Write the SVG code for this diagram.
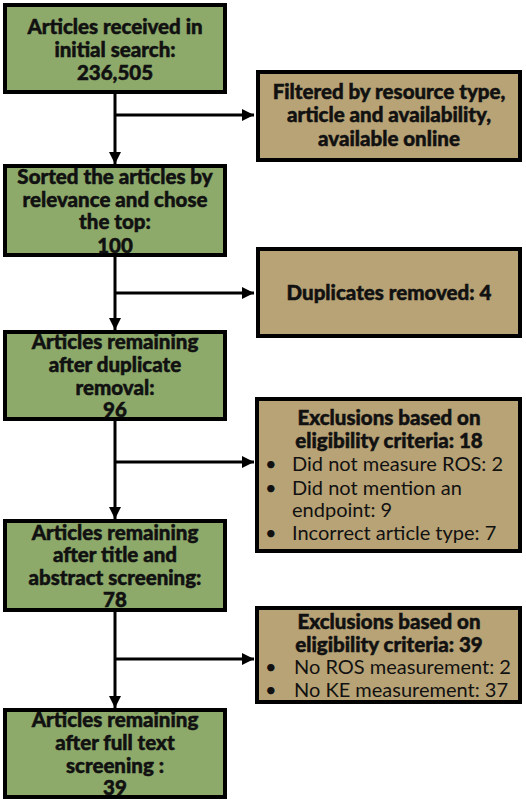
<svg xmlns="http://www.w3.org/2000/svg" width="526" height="805" viewBox="0 0 526 805">
<style>
.g{fill:#8DAA6B;stroke:#000;stroke-width:4}
.t{fill:#B8A376;stroke:#000;stroke-width:4}
.b{font-family:Lato,"Liberation Sans",sans-serif;font-weight:900;font-size:20.5px;fill:#111;stroke:#111;stroke-width:0.5;text-anchor:middle}
.r{font-family:Lato,"Liberation Sans",sans-serif;font-size:20px;fill:#111}
.c{fill:none;stroke:#000;stroke-width:3}
</style>
<defs>
<marker id="ah" viewBox="0 0 10 10" refX="10" refY="5" markerWidth="4" markerHeight="4" orient="auto" markerUnits="strokeWidth">
<path d="M0,0 L10,5 L0,10 z" fill="#000"/>
</marker>
</defs>
<g id="connectors">
<line class="c" x1="115" y1="94" x2="115" y2="164" marker-end="url(#ah)"/>
<line class="c" x1="115" y1="115" x2="254" y2="115" marker-end="url(#ah)"/>
<line class="c" x1="115" y1="257" x2="115" y2="330" marker-end="url(#ah)"/>
<line class="c" x1="115" y1="293" x2="254" y2="293" marker-end="url(#ah)"/>
<line class="c" x1="115" y1="421" x2="115" y2="519" marker-end="url(#ah)"/>
<line class="c" x1="115" y1="462" x2="254" y2="462" marker-end="url(#ah)"/>
<line class="c" x1="115" y1="612" x2="115" y2="708" marker-end="url(#ah)"/>
<line class="c" x1="115" y1="659" x2="254" y2="659" marker-end="url(#ah)"/>
</g>
<g id="n1">
<rect class="g" x="5" y="5" width="220" height="87"/>
<text class="b" x="115" y="34">Articles received in</text>
<text class="b" x="115" y="57">initial search:</text>
<text class="b" x="115" y="80">236,505</text>
</g>
<g id="n2">
<rect class="t" x="258" y="72" width="262" height="88"/>
<text class="b" x="389" y="99">Filtered by resource type,</text>
<text class="b" x="389" y="122">article and availability,</text>
<text class="b" x="389" y="146">available online</text>
</g>
<g id="n3">
<rect class="g" x="5" y="166" width="220" height="89"/>
<text class="b" x="115" y="184">Sorted the articles by</text>
<text class="b" x="115" y="207">relevance and chose</text>
<text class="b" x="115" y="229">the top:</text>
<text class="b" x="115" y="253">100</text>
</g>
<g id="n4">
<rect class="t" x="258" y="249" width="262" height="87"/>
<text class="b" x="389" y="300">Duplicates removed: 4</text>
</g>
<g id="n5">
<rect class="g" x="5" y="332" width="220" height="87"/>
<text class="b" x="115" y="349">Articles remaining</text>
<text class="b" x="115" y="372">after duplicate</text>
<text class="b" x="115" y="395">removal:</text>
<text class="b" x="115" y="417">96</text>
</g>
<g id="n6">
<rect class="t" x="257" y="399" width="263" height="152"/>
<text class="b" x="389" y="425">Exclusions based on</text>
<text class="b" x="389" y="448">eligibility criteria: 18</text>
<text class="r" x="265" y="471">•</text>
<text class="r" x="292" y="471">Did not measure ROS: 2</text>
<text class="r" x="265" y="495">•</text>
<text class="r" x="292" y="495">Did not mention an</text>
<text class="r" x="292" y="517">endpoint: 9</text>
<text class="r" x="265" y="540">•</text>
<text class="r" x="292" y="540">Incorrect article type: 7</text>
</g>
<g id="n7">
<rect class="g" x="5" y="521" width="220" height="89"/>
<text class="b" x="115" y="540">Articles remaining</text>
<text class="b" x="115" y="562">after title and</text>
<text class="b" x="115" y="585">abstract screening:</text>
<text class="b" x="115" y="607">78</text>
</g>
<g id="n8">
<rect class="t" x="257" y="608" width="263" height="94"/>
<text class="b" x="389" y="629">Exclusions based on</text>
<text class="b" x="389" y="652">eligibility criteria: 39</text>
<text class="r" x="265" y="674">•</text>
<text class="r" x="294" y="674">No ROS measurement: 2</text>
<text class="r" x="265" y="697">•</text>
<text class="r" x="294" y="697">No KE measurement: 37</text>
</g>
<g id="n9">
<rect class="g" x="5" y="710" width="220" height="87"/>
<text class="b" x="115" y="727">Articles remaining</text>
<text class="b" x="115" y="750">after full text</text>
<text class="b" x="115" y="773">screening :</text>
<text class="b" x="115" y="795">39</text>
</g>
</svg>
